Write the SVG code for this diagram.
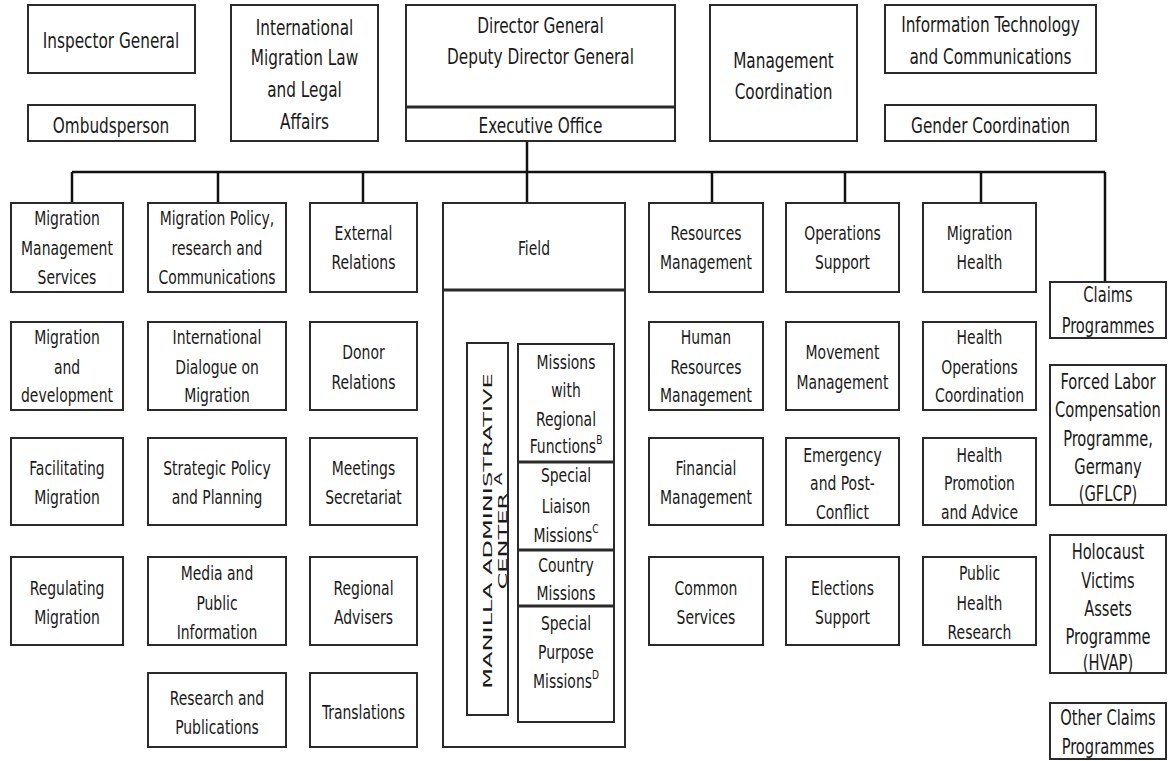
<svg xmlns="http://www.w3.org/2000/svg" width="1169" height="761" viewBox="0 0 1169 761">
<style>
.b{fill:#fff;stroke:#2a2a2a;stroke-width:2}
.d{stroke:#2a2a2a;stroke-width:3;fill:none}
.c{stroke:#111;stroke-width:2.5;fill:none}
text{font-family:"DejaVu Sans Condensed","DejaVu Sans",sans-serif;font-size:15.5px;fill:#1a1a1a;text-anchor:middle}
text:not(.m){transform-box:fill-box;transform-origin:50% 50%;transform:scale(1,1.25)}
.L{font-size:17px}
.R{font-size:16.3px}
.m{font-family:"DejaVu Sans",sans-serif;font-size:13px}
.s{font-size:10px}
</style>
<rect width="1169" height="761" fill="#fff"/>
<g id="connectors">
<path class="c" d="M72 172H1105M72 172V203M218 172V203M363 172V203M527 141V203M712 172V203M845 172V203M981 172V203M1105 172V282"/>
</g>
<g id="inspector-general"><rect class="b" x="28" y="5" width="167" height="68"/><text class="L" x="111" y="47">Inspector General</text></g>
<g id="ombudsperson"><rect class="b" x="28" y="105" width="167" height="36"/><text class="L" x="111" y="132">Ombudsperson</text></g>
<g id="intl-migration-law"><rect class="b" x="231" y="5" width="147" height="136"/><text class="L" x="304.5" y="34">International</text><text class="L" x="304.5" y="64">Migration Law</text><text class="L" x="304.5" y="96">and Legal</text><text class="L" x="304.5" y="128">Affairs</text></g>
<g id="director-general"><rect class="b" x="406" y="5" width="269" height="136"/><path class="d" d="M406 107H675"/><text class="L" x="540.5" y="32">Director General</text><text class="L" x="540.5" y="63">Deputy Director General</text><text class="L" x="540.5" y="132">Executive Office</text></g>
<g id="management-coordination"><rect class="b" x="710" y="5" width="147" height="136"/><text class="L" x="783.5" y="67">Management</text><text class="L" x="783.5" y="98">Coordination</text></g>
<g id="it-communications"><rect class="b" x="885" y="5" width="211" height="68"/><text class="L" x="990.5" y="31">Information Technology</text><text class="L" x="990.5" y="63">and Communications</text></g>
<g id="gender-coordination"><rect class="b" x="885" y="105" width="211" height="36"/><text class="L" x="990.5" y="132">Gender Coordination</text></g>

<g id="migration-management-services"><rect class="b" x="11" y="203" width="112" height="89"/><text x="67" y="224">Migration</text><text x="67" y="254">Management</text><text x="67" y="283">Services</text></g>
<g id="migration-and-development"><rect class="b" x="11" y="322" width="112" height="88"/><text x="67" y="343">Migration</text><text x="67" y="373">and</text><text x="67" y="401">development</text></g>
<g id="facilitating-migration"><rect class="b" x="11" y="438" width="112" height="87"/><text x="67" y="474">Facilitating</text><text x="67" y="503">Migration</text></g>
<g id="regulating-migration"><rect class="b" x="11" y="557" width="112" height="88"/><text x="67" y="594">Regulating</text><text x="67" y="623">Migration</text></g>

<g id="migration-policy"><rect class="b" x="148" y="203" width="138" height="89"/><text x="217" y="224">Migration Policy,</text><text x="217" y="254">research and</text><text x="217" y="283">Communications</text></g>
<g id="intl-dialogue"><rect class="b" x="148" y="322" width="138" height="88"/><text x="217" y="343">International</text><text x="217" y="373">Dialogue on</text><text x="217" y="401">Migration</text></g>
<g id="strategic-policy"><rect class="b" x="148" y="438" width="138" height="87"/><text x="217" y="474">Strategic Policy</text><text x="217" y="503">and Planning</text></g>
<g id="media-public-info"><rect class="b" x="148" y="557" width="138" height="88"/><text x="217" y="579">Media and</text><text x="217" y="609">Public</text><text x="217" y="638">Information</text></g>
<g id="research-publications"><rect class="b" x="148" y="673" width="138" height="74"/><text x="217" y="704">Research and</text><text x="217" y="733">Publications</text></g>

<g id="external-relations"><rect class="b" x="310" y="203" width="107" height="89"/><text x="363.5" y="239">External</text><text x="363.5" y="268">Relations</text></g>
<g id="donor-relations"><rect class="b" x="310" y="322" width="107" height="88"/><text x="363.5" y="358">Donor</text><text x="363.5" y="388">Relations</text></g>
<g id="meetings-secretariat"><rect class="b" x="310" y="438" width="107" height="87"/><text x="363.5" y="474">Meetings</text><text x="363.5" y="503">Secretariat</text></g>
<g id="regional-advisers"><rect class="b" x="310" y="557" width="107" height="88"/><text x="363.5" y="594">Regional</text><text x="363.5" y="623">Advisers</text></g>
<g id="translations"><rect class="b" x="310" y="673" width="107" height="74"/><text x="363.5" y="718">Translations</text></g>

<g id="field"><rect class="b" x="443" y="203" width="182" height="544"/><path class="d" d="M443 290H625"/><text x="534" y="254">Field</text></g>
<g id="manilla-admin-center"><rect class="b" x="467" y="343" width="41" height="372"/>
<text class="m" transform="translate(487 531) rotate(-90) scale(1.85 1)" x="0" y="4.7">MANILLA ADMINISTRATIVE</text>
<text class="m" transform="translate(502 531) rotate(-90) scale(1.85 1)" x="0" y="4.7">CENTER <tspan class="s" dy="-5">A</tspan></text></g>
<g id="missions"><rect class="b" x="518" y="344" width="96" height="378"/><path class="d" d="M518 462H614M518 550H614M518 606H614"/>
<text x="566" y="368">Missions</text><text x="566" y="396">with</text><text x="566" y="425">Regional</text><text x="566" y="451">Functions<tspan class="s" dy="-7">B</tspan></text>
<text x="566" y="481">Special</text><text x="566" y="512">Liaison</text><text x="566" y="540">Missions<tspan class="s" dy="-7">C</tspan></text>
<text x="566" y="571">Country</text><text x="566" y="599">Missions</text>
<text x="566" y="629">Special</text><text x="566" y="658">Purpose</text><text x="566" y="686">Missions<tspan class="s" dy="-7">D</tspan></text></g>

<g id="resources-management"><rect class="b" x="649" y="203" width="114" height="89"/><text x="706" y="239">Resources</text><text x="706" y="268">Management</text></g>
<g id="human-resources"><rect class="b" x="649" y="322" width="114" height="88"/><text x="706" y="343">Human</text><text x="706" y="373">Resources</text><text x="706" y="401">Management</text></g>
<g id="financial-management"><rect class="b" x="649" y="438" width="114" height="87"/><text x="706" y="474">Financial</text><text x="706" y="503">Management</text></g>
<g id="common-services"><rect class="b" x="649" y="557" width="114" height="88"/><text x="706" y="594">Common</text><text x="706" y="623">Services</text></g>

<g id="operations-support"><rect class="b" x="786" y="203" width="113" height="89"/><text x="842.5" y="239">Operations</text><text x="842.5" y="268">Support</text></g>
<g id="movement-management"><rect class="b" x="786" y="322" width="113" height="88"/><text x="842.5" y="358">Movement</text><text x="842.5" y="388">Management</text></g>
<g id="emergency-post-conflict"><rect class="b" x="786" y="438" width="113" height="87"/><text x="842.5" y="461">Emergency</text><text x="842.5" y="489">and Post-</text><text x="842.5" y="518">Conflict</text></g>
<g id="elections-support"><rect class="b" x="786" y="557" width="113" height="88"/><text x="842.5" y="594">Elections</text><text x="842.5" y="623">Support</text></g>

<g id="migration-health"><rect class="b" x="923" y="203" width="113" height="89"/><text x="979.5" y="239">Migration</text><text x="979.5" y="268">Health</text></g>
<g id="health-operations"><rect class="b" x="923" y="322" width="113" height="88"/><text x="979.5" y="343">Health</text><text x="979.5" y="373">Operations</text><text x="979.5" y="401">Coordination</text></g>
<g id="health-promotion"><rect class="b" x="923" y="438" width="113" height="87"/><text x="979.5" y="461">Health</text><text x="979.5" y="489">Promotion</text><text x="979.5" y="518">and Advice</text></g>
<g id="public-health-research"><rect class="b" x="923" y="557" width="113" height="88"/><text x="979.5" y="579">Public</text><text x="979.5" y="609">Health</text><text x="979.5" y="638">Research</text></g>

<g id="claims-programmes"><rect class="b" x="1050" y="282" width="116" height="56"/><text class="R" x="1108" y="301">Claims</text><text class="R" x="1108" y="332">Programmes</text></g>
<g id="gflcp"><rect class="b" x="1050" y="365" width="116" height="140"/><text class="R" x="1108" y="388">Forced Labor</text><text class="R" x="1108" y="416">Compensation</text><text class="R" x="1108" y="445">Programme,</text><text class="R" x="1108" y="473">Germany</text><text class="R" x="1108" y="500">(GFLCP)</text></g>
<g id="hvap"><rect class="b" x="1050" y="535" width="116" height="138"/><text class="R" x="1108" y="558">Holocaust</text><text class="R" x="1108" y="587">Victims</text><text class="R" x="1108" y="615">Assets</text><text class="R" x="1108" y="643">Programme</text><text class="R" x="1108" y="669">(HVAP)</text></g>
<g id="other-claims"><rect class="b" x="1050" y="703" width="116" height="56"/><text class="R" x="1108" y="724">Other Claims</text><text class="R" x="1108" y="753">Programmes</text></g>
</svg>
